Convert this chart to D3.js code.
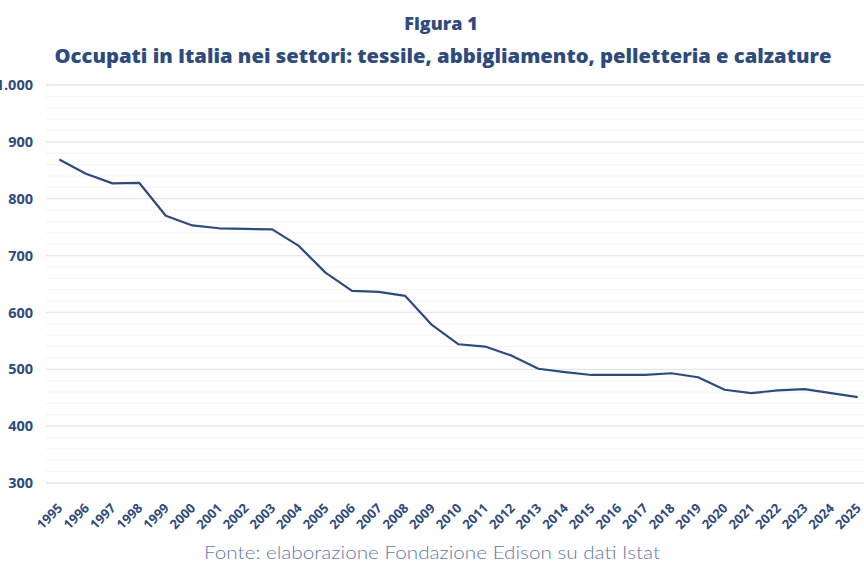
<!DOCTYPE html>
<html lang="it">
<head>
<meta charset="UTF-8">
<title>Occupati in Italia nei settori</title>
<style>
    body {
        margin: 0;
        padding: 0;
        background-color: #fff;
        font-family: "Open Sans", Arial, sans-serif;
    }
    svg text { fill: #2f4b7c; font-family: "Open Sans", Arial, sans-serif; }
</style>
</head>
<body>
<svg id="chart" width="864" height="576"></svg>

<script src="https://d3js.org/d3.v7.min.js"></script>
<script>
    // dati (migliaia di occupati)
    const anni = ["1995","1996","1997","1998","1999","2000","2001","2002","2003","2004",
                  "2005","2006","2007","2008","2009","2010","2011","2012","2013","2014",
                  "2015","2016","2017","2018","2019","2020","2021","2022","2023","2024","2025"];
    const occupati = [869, 844, 827, 828, 770, 753, 748, 747, 746, 717,
                      670, 638, 636, 629, 578, 544, 540, 524, 501, 495,
                      490, 490, 490, 493, 486, 464, 458, 463, 465, 458, 451];
    const yTicks = [300, 400, 500, 600, 700, 800, 900, 1000];

    const svg = d3.select("#chart");
    const W = 864, H = 576;
    const mLeft = 46, mRight = 871, mTop = 85, mBottom = 483;

    // scale
    const x = d3.scaleBand().domain(anni).range([mLeft, mRight]);
    const y = d3.scaleLinear().domain([300, 1000]).range([mBottom, mTop]);

    // griglia minore ogni 20
    const minori = d3.range(320, 1000, 20).filter(v => v % 100 !== 0);
    svg.append("g").selectAll("line")
        .data(minori).join("line")
        .attr("x1", mLeft).attr("x2", W)
        .attr("y1", d => y(d)).attr("y2", d => y(d))
        .attr("stroke", "#f2f3f7").attr("stroke-width", 1);

    // griglia principale
    svg.append("g").selectAll("line")
        .data(yTicks).join("line")
        .attr("x1", mLeft).attr("x2", W)
        .attr("y1", d => y(d)).attr("y2", d => y(d))
        .attr("stroke", "#e4e6ee").attr("stroke-width", 1.3);

    // asse y
    const fmt = d3.formatLocale({decimal: ",", thousands: ".", grouping: [3], currency: ["", "€"]}).format(",");
    const yAxis = svg.append("g")
        .attr("transform", `translate(${mLeft}, 0)`)
        .call(d3.axisLeft(y).tickValues(yTicks).tickFormat(fmt).tickSize(0).tickPadding(13));
    yAxis.select(".domain").remove();
    yAxis.selectAll("text")
        .style("font-size", "14.5px").style("font-weight", "700");

    // asse x
    const xAxis = svg.append("g")
        .attr("transform", `translate(0, ${mBottom})`)
        .call(d3.axisBottom(x).tickSize(0).tickPadding(0));
    xAxis.select(".domain").remove();
    xAxis.selectAll("text")
        .style("font-size", "13px").style("font-weight", "700")
        .attr("text-anchor", "end")
        .attr("y", 0)
        .attr("dy", 0)
        .attr("transform", "translate(4, 26) rotate(-45)");

    // linea
    const line = d3.line()
        .x((d, i) => x(anni[i]) + x.bandwidth() / 2)
        .y(d => y(d));
    svg.append("path")
        .datum(occupati)
        .attr("d", line)
        .attr("fill", "none")
        .attr("stroke", "#2f4b7c")
        .attr("stroke-width", 2.2)
        .attr("stroke-linejoin", "round");

    // titoli
    svg.append("text")
        .attr("x", 441).attr("y", 30)
        .attr("text-anchor", "middle")
        .style("font-size", "18px").style("font-weight", "800")
        .text("Figura 1");

    svg.append("text")
        .attr("x", 443).attr("y", 63)
        .attr("text-anchor", "middle")
        .attr("textLength", 777).attr("lengthAdjust", "spacingAndGlyphs")
        .style("font-size", "19px").style("font-weight", "800")
        .text("Occupati in Italia nei settori: tessile, abbigliamento, pelletteria e calzature");

    svg.append("text")
        .attr("x", 432).attr("y", 559)
        .attr("text-anchor", "middle")
        .attr("textLength", 456).attr("lengthAdjust", "spacingAndGlyphs")
        .style("fill", "#6479a6")
        .style("font-size", "18px").style("font-weight", "300")
        .style("font-family", "Lato, 'Open Sans', sans-serif")
        .text("Fonte: elaborazione Fondazione Edison su dati Istat");
</script>
</body>
</html>
